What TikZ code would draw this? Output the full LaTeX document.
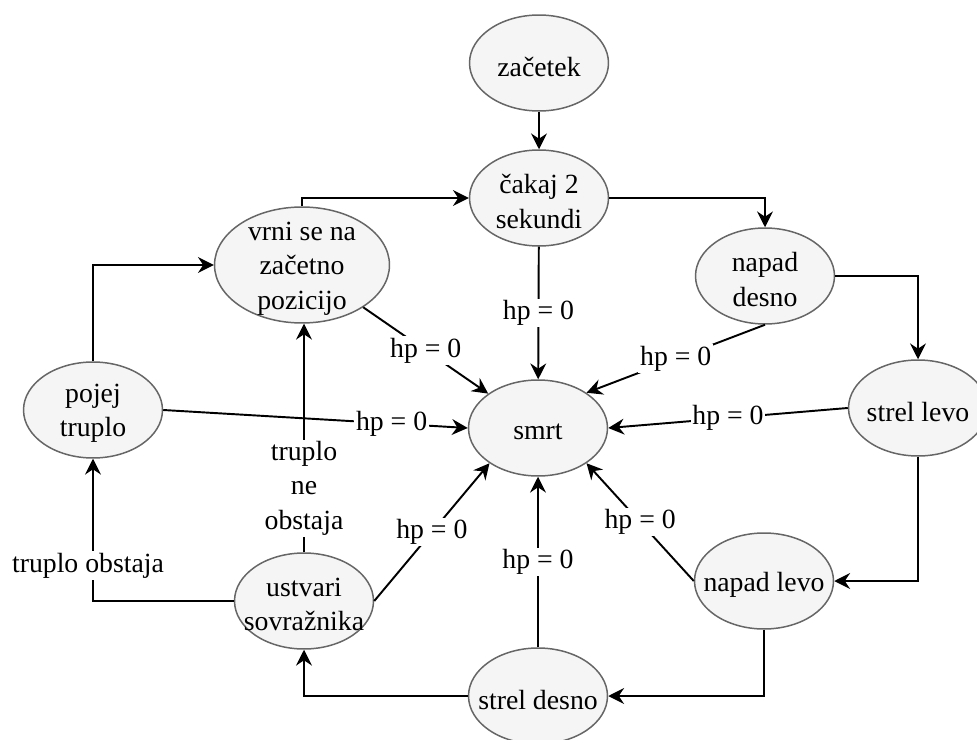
\documentclass[tikz,border=0pt]{standalone}
\usepackage{fontspec}
\setmainfont{Liberation Serif}
\definecolor{statefill}{RGB}{245, 245, 245}
\definecolor{stateline}{RGB}{102, 102, 102}
\usetikzlibrary{shapes.geometric, arrows.meta, positioning}

\begin{document}
\begin{tikzpicture}[x=0.02cm, y=-0.02cm,
  font=\fontsize{15.8}{19.5}\selectfont,
  state/.style={ellipse, draw=stateline, fill=statefill, line width=0.85pt, minimum width=2.78cm, minimum height=1.92cm, inner sep=0pt},
  statetext/.style={align=center, inner sep=0pt, yshift=-2pt},
  edge/.style={-{Stealth[length=9pt, width=9pt, inset=3pt]}, line width=1.1pt},
  hp/.style={fill=white, inner sep=1pt}]
  \useasboundingbox (0,0) rectangle (977,740);

  % Start and waiting
  \node[state, label={[statetext]center:začetek}] (zacetek) at (539,63) {};
  \node[state, label={[statetext]center:čakaj 2\\sekundi}] (cakaj) at (539,198) {};

  % Attack loop
  \node[state, label={[statetext]center:napad\\desno}] (napdesno) at (765,276) {};
  \node[state, label={[statetext]center:strel levo}] (strellevo) at (918,408) {};
  \node[state, label={[statetext]center:napad levo}] (napadlevo) at (764,581) {};
  \node[state, label={[statetext]center:strel desno}] (streldesno) at (538,696) {};
  \node[state, label={[statetext]center:ustvari\\sovražnika}] (ustvari) at (304,601) {};
  \node[state, label={[statetext]center:pojej\\truplo}] (pojej) at (93,410) {};
  \node[state, minimum width=3.5cm, minimum height=2.32cm, label={[statetext]center:vrni se na\\začetno\\pozicijo}] (vrni) at (302,265) {};

  % Death
  \node[state, label={[statetext]center:smrt}] (smrt) at (538,428) {};

  % Main transitions
  \draw[edge] (zacetek) -- (cakaj);
  \draw[edge] (cakaj.east) -| (napdesno.north);
  \draw[edge] (napdesno.east) -| (strellevo.north);
  \draw[edge] (strellevo.south) |- (napadlevo.east);
  \draw[edge] (napadlevo.south) |- (streldesno.east);
  \draw[edge] (streldesno.west) -| (ustvari.south);
  \draw[edge] (ustvari.west) -| node[hp, pos=0.625, xshift=-0.1cm] {truplo obstaja} (pojej.south);
  \draw[edge] (ustvari.north) -- node[hp, align=center, pos=0.28] {truplo\\ne\\obstaja} (ustvari.north |- vrni.south);
  \draw[edge] (pojej.north) |- (vrni.west);
  \draw[edge] (vrni.north) |- (cakaj.west);

  % hp = 0 into smrt
  \draw[edge] (cakaj) -- node[hp] {hp = 0} (smrt);
  \draw[edge] (vrni) -- node[hp] {hp = 0} (smrt);
  \draw[edge] (napdesno.south) -- node[hp] {hp = 0} (smrt.36);
  \draw[edge] (strellevo.west) -- node[hp] {hp = 0} (smrt.east);
  \draw[edge] (napadlevo.west) -- node[hp] {hp = 0} (smrt.-36);
  \draw[edge] (streldesno) -- node[hp] {hp = 0} (smrt);
  \draw[edge] (ustvari.east) -- node[hp] {hp = 0} (smrt.216);
  \draw[edge] (pojej.east) -- node[hp, pos=0.75] {hp = 0} (smrt.west);
\end{tikzpicture}
\end{document}
